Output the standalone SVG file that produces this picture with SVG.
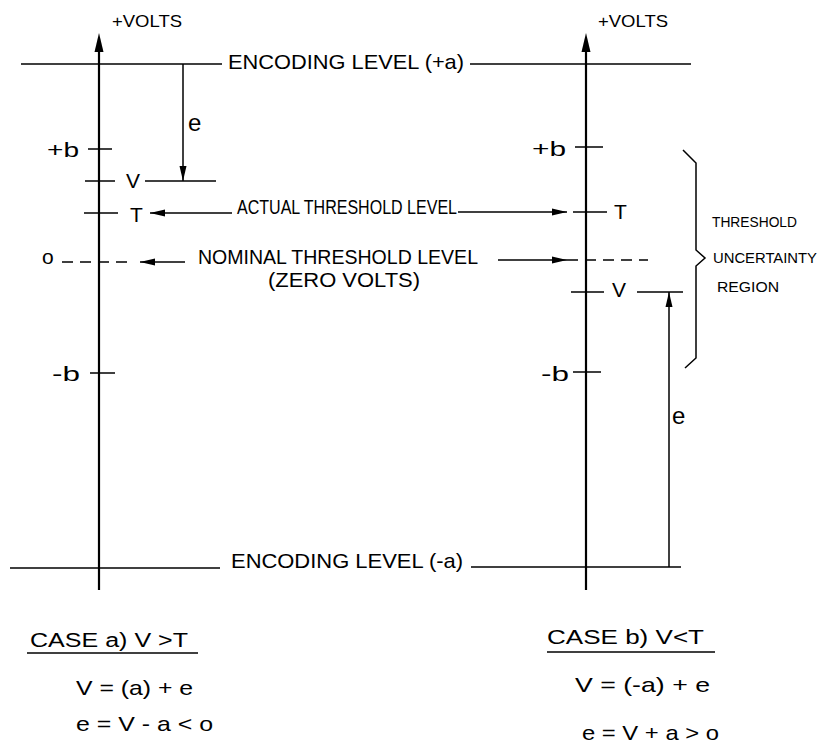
<svg xmlns="http://www.w3.org/2000/svg" width="827" height="747" viewBox="0 0 827 747">
<defs>
<style>
.ax{stroke:#000;stroke-width:2.2;fill:none}
.ln{stroke:#000;stroke-width:1.5;fill:none}
.dash{stroke:#000;stroke-width:1.5;fill:none;stroke-dasharray:11 7}
text{font-family:"Liberation Sans","DejaVu Sans",sans-serif;fill:#000}
.lb{font-size:21px}
.sm{font-size:17px}
.cap{font-size:20px}
.reg{font-size:15.5px}
.ee{font-size:24px}
</style>
<marker id="ah" markerWidth="16" markerHeight="10" refX="15" refY="5" orient="auto" markerUnits="userSpaceOnUse">
<path d="M0,1.5 L15,5 L0,8.5 Z" fill="#000"/>
</marker>
</defs>
<rect width="827" height="747" fill="#fff"/>

<g id="axis-left">
<line class="ax" x1="99" y1="590" x2="99" y2="50"/>
<path d="M99,33 L103.5,52 L94.5,52 Z" fill="#000"/>
<text class="sm" x="112" y="27" textLength="70" lengthAdjust="spacingAndGlyphs">+VOLTS</text>
</g>
<g id="axis-right">
<line class="ax" x1="586" y1="590" x2="586" y2="50"/>
<path d="M586,33 L590.5,52 L581.5,52 Z" fill="#000"/>
<text class="sm" x="598" y="27" textLength="70" lengthAdjust="spacingAndGlyphs">+VOLTS</text>
</g>

<g id="encoding-top">
<line class="ln" x1="21" y1="64" x2="222" y2="64"/>
<line class="ln" x1="470" y1="64" x2="691" y2="64"/>
<text class="lb" x="228" y="69" textLength="236" lengthAdjust="spacingAndGlyphs">ENCODING LEVEL (+a)</text>
</g>
<g id="encoding-bottom">
<line class="ln" x1="10" y1="568" x2="220" y2="568"/>
<line class="ln" x1="471" y1="567" x2="681" y2="567"/>
<text class="lb" x="231" y="568" textLength="232" lengthAdjust="spacingAndGlyphs">ENCODING LEVEL (-a)</text>
</g>

<g id="ticks-left">
<line class="ln" x1="88" y1="149" x2="112" y2="149"/>
<text class="lb" x="47" y="157" textLength="32" lengthAdjust="spacingAndGlyphs">+b</text>
<line class="ln" x1="85" y1="181" x2="115" y2="181"/>
<text class="lb" x="126" y="188">V</text>
<line class="ln" x1="145" y1="181" x2="216" y2="181"/>
<line class="ln" x1="84" y1="213" x2="118" y2="213"/>
<text class="lb" x="130" y="222">T</text>
<line class="ln" x1="90" y1="373" x2="115" y2="373"/>
<text class="lb" x="52" y="381" textLength="28" lengthAdjust="spacingAndGlyphs">-b</text>
<text class="lb" x="42" y="264">o</text>
</g>

<g id="ticks-right">
<line class="ln" x1="575" y1="147" x2="603" y2="147"/>
<text class="lb" x="532" y="156" textLength="34" lengthAdjust="spacingAndGlyphs">+b</text>
<line class="ln" x1="573" y1="212" x2="607" y2="212"/>
<text class="lb" x="614" y="219">T</text>
<line class="ln" x1="571" y1="292" x2="604" y2="292"/>
<text class="lb" x="612" y="297">V</text>
<line class="ln" x1="637" y1="292" x2="683" y2="292"/>
<line class="ln" x1="573" y1="372" x2="601" y2="372"/>
<text class="lb" x="541" y="381" textLength="28" lengthAdjust="spacingAndGlyphs">-b</text>
</g>

<g id="actual-threshold">
<text class="cap" x="237" y="214" textLength="220" lengthAdjust="spacingAndGlyphs">ACTUAL THRESHOLD LEVEL</text>
</g>
<g id="nominal-threshold">
<text class="cap" x="198" y="264" textLength="280" lengthAdjust="spacingAndGlyphs">NOMINAL THRESHOLD LEVEL</text>
<text class="cap" x="268" y="287" textLength="152" lengthAdjust="spacingAndGlyphs">(ZERO VOLTS)</text>
<line class="dash" x1="62" y1="262" x2="130" y2="262"/>
<line class="dash" x1="567" y1="260" x2="648" y2="260"/>
</g>

<g id="uncertainty-region">
<path class="ln" d="M683,150 L696,163 L696,250 L705,258 L696,266 L696,358 L685,368"/>
<text class="reg" x="712" y="227" textLength="85" lengthAdjust="spacingAndGlyphs">THRESHOLD</text>
<text class="reg" x="713" y="263" textLength="104" lengthAdjust="spacingAndGlyphs">UNCERTAINTY</text>
<text class="reg" x="717" y="292" textLength="62" lengthAdjust="spacingAndGlyphs">REGION</text>
</g>

<g id="connectors">
<line class="ln" x1="183" y1="64" x2="183" y2="181" marker-end="url(#ah)"/>
<text class="ee" x="188" y="131">e</text>
<line class="ln" x1="232" y1="213" x2="150" y2="213" marker-end="url(#ah)"/>
<line class="ln" x1="458" y1="212" x2="567" y2="212" marker-end="url(#ah)"/>
<line class="ln" x1="185" y1="262" x2="140" y2="262" marker-end="url(#ah)"/>
<line class="ln" x1="498" y1="260" x2="567" y2="260" marker-end="url(#ah)"/>
<line class="ln" x1="669" y1="567" x2="669" y2="292" marker-end="url(#ah)"/>
<text class="ee" x="672" y="424">e</text>
</g>

<g id="case-a">
<text class="cap" x="30" y="647" textLength="158" lengthAdjust="spacingAndGlyphs">CASE a)  V &gt;T</text>
<line class="ln" x1="27" y1="653" x2="198" y2="653"/>
<text class="lb" x="76" y="695" textLength="117" lengthAdjust="spacingAndGlyphs">V = (a) + e</text>
<text class="lb" x="76" y="731" textLength="137" lengthAdjust="spacingAndGlyphs">e = V - a &lt; o</text>
</g>
<g id="case-b">
<text class="cap" x="547" y="644" textLength="157" lengthAdjust="spacingAndGlyphs">CASE b)  V&lt;T</text>
<line class="ln" x1="547" y1="652" x2="715" y2="652"/>
<text class="lb" x="575" y="692" textLength="135" lengthAdjust="spacingAndGlyphs">V = (-a) + e</text>
<text class="lb" x="582" y="740" textLength="137" lengthAdjust="spacingAndGlyphs">e = V + a &gt; o</text>
</g>
</svg>
